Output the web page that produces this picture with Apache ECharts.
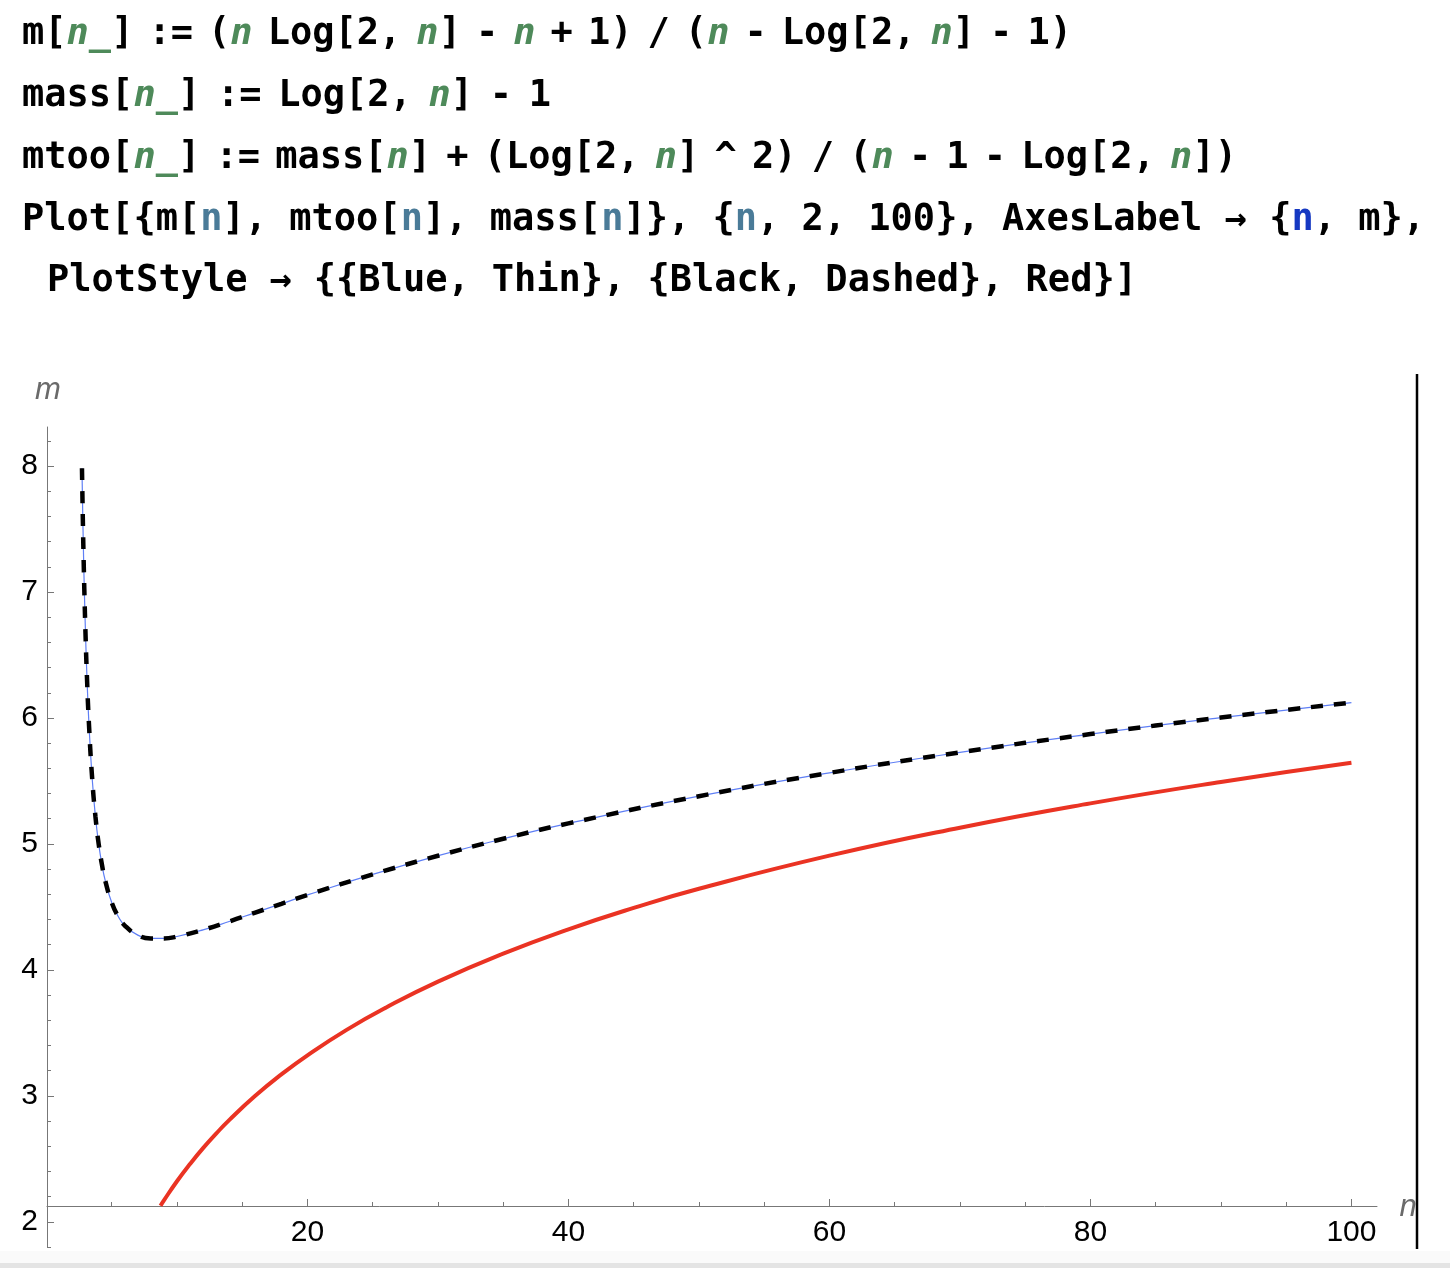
<!DOCTYPE html>
<html>
<head>
<meta charset="utf-8">
<script src="https://cdn.jsdelivr.net/npm/echarts@6/dist/echarts.min.js"></script>
<style>
  html, body { margin: 0; padding: 0; background: #ffffff; }
  #chart { position: absolute; left: 0; top: 0; width: 1450px; height: 1268px; }
  #code { position: absolute; left: 0; top: 0; width: 1450px; height: 330px; pointer-events: none; }
  #code text { font-family: "DejaVu Sans Mono", monospace; font-weight: bold; font-size: 37px; fill: #000; white-space: pre; }
  .g { fill: #4e8a5a !important; font-style: italic; }
  .t { fill: #4a7b98 !important; }
  .b { fill: #1538c2 !important; }
</style>
</head>
<body>
<div id="chart"></div>
<svg id="code" xmlns="http://www.w3.org/2000/svg" width="1450" height="330">
  <text data-w="1050" x="22" y="44.3">m[<tspan class="g">n_</tspan>] := (<tspan class="g">n</tspan> Log[2, <tspan class="g">n</tspan>] - <tspan class="g">n</tspan> + 1) / (<tspan class="g">n</tspan> - Log[2, <tspan class="g">n</tspan>] - 1)</text>
  <text data-w="529" x="22" y="106.3">mass[<tspan class="g">n_</tspan>] := Log[2, <tspan class="g">n</tspan>] - 1</text>
  <text data-w="1215" x="22" y="168">mtoo[<tspan class="g">n_</tspan>] := mass[<tspan class="g">n</tspan>] + (Log[2, <tspan class="g">n</tspan>] ^ 2) / (<tspan class="g">n</tspan> - 1 - Log[2, <tspan class="g">n</tspan>])</text>
  <text data-w="1403" x="22" y="229.7">Plot[{m[<tspan class="t">n</tspan>], mtoo[<tspan class="t">n</tspan>], mass[<tspan class="t">n</tspan>]}, {<tspan class="t">n</tspan>, 2, 100}, AxesLabel → {<tspan class="b">n</tspan>, m},</text>
  <text data-w="1090" x="47" y="291.4">PlotStyle → {{Blue, Thin}, {Black, Dashed}, Red}]</text>
</svg>
<script>
// ---- data ----
const mN = [2.72, 2.75, 2.8, 2.85, 2.9, 3, 3.1, 3.25, 3.5, 3.75, 4, 4.25, 4.5, 5, 5.5, 6, 7, 8, 9, 10, 12, 14, 16, 18, 20, 25, 30, 35, 40, 50, 60, 70, 80, 90, 100];
const mValues = [7.983, 7.790, 7.500, 7.245, 7.019, 6.638, 6.329, 5.962, 5.523, 5.220, 5.000, 4.836, 4.710, 4.535, 4.424, 4.352, 4.276, 4.250, 4.250, 4.265, 4.318, 4.384, 4.455, 4.525, 4.595, 4.758, 4.906, 5.041, 5.163, 5.379, 5.564, 5.727, 5.872, 6.003, 6.122];
const mtooValues = [7.983, 7.790, 7.500, 7.245, 7.019, 6.638, 6.329, 5.962, 5.523, 5.220, 5.000, 4.836, 4.710, 4.535, 4.424, 4.352, 4.276, 4.250, 4.250, 4.265, 4.318, 4.384, 4.455, 4.525, 4.595, 4.758, 4.906, 5.041, 5.163, 5.379, 5.564, 5.727, 5.872, 6.003, 6.122];
const massN = [8.74, 9, 10, 11, 12, 13, 14, 16, 18, 20, 23, 26, 30, 35, 40, 45, 50, 60, 70, 80, 90, 100];
const massValues = [2.127, 2.170, 2.322, 2.459, 2.585, 2.700, 2.807, 3.000, 3.170, 3.322, 3.524, 3.700, 3.907, 4.129, 4.322, 4.492, 4.644, 4.907, 5.129, 5.322, 5.492, 5.644];
const xMajorTicks = [20, 40, 60, 80, 100];
const xMinorTicks = [5, 10, 15, 25, 30, 35, 45, 50, 55, 65, 70, 75, 85, 90, 95];
const yMajorTicks = [2, 3, 4, 5, 6, 7, 8];
const yMinorTicks = [1.8, 2.2, 2.4, 2.6, 2.8, 3.2, 3.4, 3.6, 3.8, 4.2, 4.4, 4.6, 4.8, 5.2, 5.4, 5.6, 5.8, 6.2, 6.4, 6.6, 6.8, 7.2, 7.4, 7.6, 7.8, 8.2];
const xLabel = 'n';
const yLabel = 'm';

// fit each code line to its width in the reference by adjusting the space width
document.querySelectorAll('#code text').forEach(function (t) {
  const target = parseFloat(t.getAttribute('data-w'));
  const natural = t.getComputedTextLength();
  const spaces = (t.textContent.match(/ /g) || []).length;
  if (spaces > 0) t.setAttribute('word-spacing', ((target - natural) / spaces).toFixed(2));
});

const pairs = (xs, ys) => xs.map((x, i) => [x, ys[i]]);

const axisColor = '#777777';
const labelFont = { color: '#000000', fontSize: 30, fontFamily: 'Liberation Sans, Arial, sans-serif' };

const chart = echarts.init(document.getElementById('chart'), null, { renderer: 'canvas' });
chart.setOption({
  animation: false,
  backgroundColor: 'transparent',
  grid: { left: 47, top: 427, width: 1330, height: 820, containLabel: false },
  xAxis: [
    {
      type: 'value', min: 0.04, max: 101.96, position: 'bottom', offset: -41,
      axisLine: { show: true, onZero: false, lineStyle: { color: axisColor, width: 1 } },
      axisTick: { show: true, inside: true, length: 7, customValues: xMajorTicks, lineStyle: { color: axisColor, width: 1 } },
      axisLabel: { show: true, customValues: xMajorTicks, margin: 12, ...labelFont },
      splitLine: { show: false }
    },
    {
      type: 'value', min: 0.04, max: 101.96, position: 'bottom', offset: -41,
      axisLine: { show: false, onZero: false },
      axisTick: { show: true, inside: true, length: 4, customValues: xMinorTicks, lineStyle: { color: axisColor, width: 1 } },
      axisLabel: { show: false },
      splitLine: { show: false }
    }
  ],
  yAxis: [
    {
      type: 'value', min: 1.8, max: 8.31, position: 'left',
      axisLine: { show: true, onZero: false, lineStyle: { color: axisColor, width: 1 } },
      axisTick: { show: true, inside: true, length: 7, customValues: yMajorTicks, lineStyle: { color: axisColor, width: 1 } },
      axisLabel: { show: true, customValues: yMajorTicks, margin: 9, ...labelFont },
      splitLine: { show: false }
    },
    {
      type: 'value', min: 1.8, max: 8.31, position: 'left',
      axisLine: { show: false, onZero: false },
      axisTick: { show: true, inside: true, length: 4, customValues: yMinorTicks, lineStyle: { color: axisColor, width: 1 } },
      axisLabel: { show: false },
      splitLine: { show: false }
    }
  ],
  series: [
    {
      name: 'm[n]', type: 'line', xAxisIndex: 0, yAxisIndex: 0,
      data: pairs(mN, mValues), showSymbol: false, smooth: 0.5,
      lineStyle: { color: '#5f7ff5', width: 1.2 }, z: 2
    },
    {
      name: 'mtoo[n]', type: 'line', xAxisIndex: 0, yAxisIndex: 0,
      data: pairs(mN, mtooValues), showSymbol: false, smooth: 0.5,
      lineStyle: { color: '#000000', width: 4.5, type: [12, 11], cap: 'butt' }, z: 3
    },
    {
      name: 'mass[n]', type: 'line', xAxisIndex: 0, yAxisIndex: 0,
      data: pairs(massN, massValues), showSymbol: false, smooth: 0.5,
      lineStyle: { color: '#ea3323', width: 4 }, z: 4
    }
  ],
  graphic: [
    { type: 'text', x: 48, y: 390, z: 50,
      style: { text: yLabel, fontSize: 31, fontStyle: 'italic', fontFamily: 'Liberation Sans, Arial, sans-serif', fill: '#6a6a6a', align: 'center', verticalAlign: 'middle' } },
    { type: 'text', x: 1408, y: 1207, z: 50,
      style: { text: xLabel, fontSize: 31, fontStyle: 'italic', fontFamily: 'Liberation Sans, Arial, sans-serif', fill: '#6a6a6a', align: 'center', verticalAlign: 'middle' } },
    { type: 'line', z: 100, shape: { x1: 1417, y1: 374, x2: 1417, y2: 1249 }, style: { stroke: '#000000', lineWidth: 2.5 } },
    { type: 'rect', z: 1, shape: { x: 0, y: 1251, width: 1450, height: 12 }, style: { fill: '#fafafa' } },
    { type: 'rect', z: 1, shape: { x: 0, y: 1263, width: 1450, height: 5 }, style: { fill: '#e4e4e4' } }
  ]
});
</script>
</body>
</html>
